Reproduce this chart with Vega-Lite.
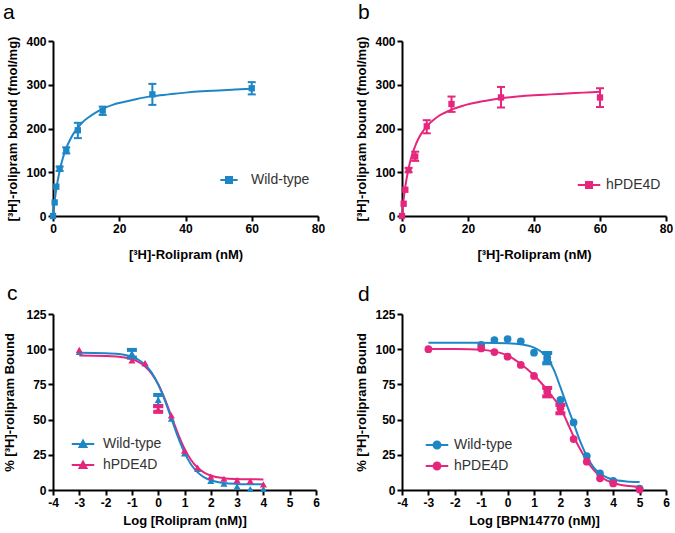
{
  "$schema": "https://vega.github.io/schema/vega-lite/v6.json",
  "background": "white",
  "padding": {"left": 2, "top": 2, "right": 5, "bottom": 5},
  "spacing": 22,
  "datasets": {
    "pts": [
      {"panel": "a", "series": "Wild-type", "x": 0, "y": 0},
      {"panel": "a", "series": "Wild-type", "x": 0.5, "y": 31},
      {"panel": "a", "series": "Wild-type", "x": 1, "y": 67},
      {"panel": "a", "series": "Wild-type", "x": 2, "y": 108},
      {"panel": "a", "series": "Wild-type", "x": 4, "y": 150},
      {"panel": "a", "series": "Wild-type", "x": 7.5, "y": 196},
      {"panel": "a", "series": "Wild-type", "x": 15, "y": 241},
      {"panel": "a", "series": "Wild-type", "x": 30, "y": 278},
      {"panel": "a", "series": "Wild-type", "x": 60, "y": 292},
      {"panel": "b", "series": "hPDE4D", "x": 0, "y": 0},
      {"panel": "b", "series": "hPDE4D", "x": 0.5, "y": 28},
      {"panel": "b", "series": "hPDE4D", "x": 1, "y": 60},
      {"panel": "b", "series": "hPDE4D", "x": 2, "y": 105},
      {"panel": "b", "series": "hPDE4D", "x": 4, "y": 136},
      {"panel": "b", "series": "hPDE4D", "x": 7.5, "y": 205},
      {"panel": "b", "series": "hPDE4D", "x": 15, "y": 256},
      {"panel": "b", "series": "hPDE4D", "x": 30, "y": 271},
      {"panel": "b", "series": "hPDE4D", "x": 60, "y": 271},
      {"panel": "c", "series": "Wild-type", "x": -3, "y": 98},
      {"panel": "c", "series": "Wild-type", "x": -1, "y": 97},
      {"panel": "c", "series": "Wild-type", "x": -0.5, "y": 90},
      {"panel": "c", "series": "Wild-type", "x": 0, "y": 64},
      {"panel": "c", "series": "Wild-type", "x": 0.5, "y": 50.7},
      {"panel": "c", "series": "Wild-type", "x": 1, "y": 26},
      {"panel": "c", "series": "Wild-type", "x": 1.5, "y": 15},
      {"panel": "c", "series": "Wild-type", "x": 2, "y": 6.5},
      {"panel": "c", "series": "Wild-type", "x": 2.5, "y": 4.5},
      {"panel": "c", "series": "Wild-type", "x": 3, "y": 2.5},
      {"panel": "c", "series": "Wild-type", "x": 3.5, "y": 0.7},
      {"panel": "c", "series": "Wild-type", "x": 4, "y": 0.7},
      {"panel": "c", "series": "hPDE4D", "x": -3, "y": 99.5},
      {"panel": "c", "series": "hPDE4D", "x": -1, "y": 92},
      {"panel": "c", "series": "hPDE4D", "x": -0.5, "y": 90},
      {"panel": "c", "series": "hPDE4D", "x": 0, "y": 57.3},
      {"panel": "c", "series": "hPDE4D", "x": 0.5, "y": 53},
      {"panel": "c", "series": "hPDE4D", "x": 1, "y": 28},
      {"panel": "c", "series": "hPDE4D", "x": 1.5, "y": 16},
      {"panel": "c", "series": "hPDE4D", "x": 2, "y": 9.5},
      {"panel": "c", "series": "hPDE4D", "x": 2.5, "y": 8},
      {"panel": "c", "series": "hPDE4D", "x": 3, "y": 7},
      {"panel": "c", "series": "hPDE4D", "x": 3.5, "y": 6.5},
      {"panel": "c", "series": "hPDE4D", "x": 4, "y": 4},
      {"panel": "d", "series": "Wild-type", "x": -1, "y": 103},
      {"panel": "d", "series": "Wild-type", "x": -0.5, "y": 106.5},
      {"panel": "d", "series": "Wild-type", "x": 0, "y": 107.2},
      {"panel": "d", "series": "Wild-type", "x": 0.5, "y": 105.6},
      {"panel": "d", "series": "Wild-type", "x": 1, "y": 97.5},
      {"panel": "d", "series": "Wild-type", "x": 1.5, "y": 94.3},
      {"panel": "d", "series": "Wild-type", "x": 1.5, "y": 92},
      {"panel": "d", "series": "Wild-type", "x": 2, "y": 64},
      {"panel": "d", "series": "Wild-type", "x": 2.5, "y": 48},
      {"panel": "d", "series": "Wild-type", "x": 3, "y": 24.1},
      {"panel": "d", "series": "Wild-type", "x": 3.5, "y": 11.8},
      {"panel": "d", "series": "Wild-type", "x": 4, "y": 6.4},
      {"panel": "d", "series": "Wild-type", "x": 5, "y": 1},
      {"panel": "d", "series": "hPDE4D", "x": -3, "y": 100},
      {"panel": "d", "series": "hPDE4D", "x": -1, "y": 100.5},
      {"panel": "d", "series": "hPDE4D", "x": -0.5, "y": 98},
      {"panel": "d", "series": "hPDE4D", "x": 0, "y": 94.7},
      {"panel": "d", "series": "hPDE4D", "x": 0.5, "y": 88.8},
      {"panel": "d", "series": "hPDE4D", "x": 1, "y": 81},
      {"panel": "d", "series": "hPDE4D", "x": 1.5, "y": 69.8},
      {"panel": "d", "series": "hPDE4D", "x": 2, "y": 58},
      {"panel": "d", "series": "hPDE4D", "x": 2.5, "y": 36.2},
      {"panel": "d", "series": "hPDE4D", "x": 3, "y": 20.1},
      {"panel": "d", "series": "hPDE4D", "x": 3.5, "y": 8.3},
      {"panel": "d", "series": "hPDE4D", "x": 4, "y": 4.7},
      {"panel": "d", "series": "hPDE4D", "x": 5, "y": 0.3}
    ],
    "errs": [
      {"panel": "a", "series": "Wild-type", "x": 2, "lo": 103, "hi": 113},
      {"panel": "a", "series": "Wild-type", "x": 4, "lo": 143, "hi": 157},
      {"panel": "a", "series": "Wild-type", "x": 7.5, "lo": 178, "hi": 213},
      {"panel": "a", "series": "Wild-type", "x": 15, "lo": 231, "hi": 250},
      {"panel": "a", "series": "Wild-type", "x": 30, "lo": 254, "hi": 302},
      {"panel": "a", "series": "Wild-type", "x": 60, "lo": 278, "hi": 306},
      {"panel": "b", "series": "hPDE4D", "x": 2, "lo": 100, "hi": 110},
      {"panel": "b", "series": "hPDE4D", "x": 4, "lo": 126, "hi": 147},
      {"panel": "b", "series": "hPDE4D", "x": 7.5, "lo": 189, "hi": 219},
      {"panel": "b", "series": "hPDE4D", "x": 15, "lo": 238, "hi": 273},
      {"panel": "b", "series": "hPDE4D", "x": 30, "lo": 248, "hi": 295},
      {"panel": "b", "series": "hPDE4D", "x": 60, "lo": 249, "hi": 292},
      {"panel": "c", "series": "Wild-type", "x": -1, "lo": 94, "hi": 99.5},
      {"panel": "c", "series": "Wild-type", "x": 0, "lo": 59.7, "hi": 67.5},
      {"panel": "c", "series": "hPDE4D", "x": 0, "lo": 55.5, "hi": 59.5},
      {"panel": "d", "series": "Wild-type", "x": 1.5, "lo": 90, "hi": 97.3},
      {"panel": "d", "series": "hPDE4D", "x": 1.5, "lo": 66.5, "hi": 72.5},
      {"panel": "d", "series": "hPDE4D", "x": 2, "lo": 54.5, "hi": 60.4}
    ],
    "curves": [
      {"panel": "a", "series": "Wild-type", "x": 0, "y": 0},
      {"panel": "a", "series": "Wild-type", "x": 0.5, "y": 34},
      {"panel": "a", "series": "Wild-type", "x": 1, "y": 62},
      {"panel": "a", "series": "Wild-type", "x": 2, "y": 103},
      {"panel": "a", "series": "Wild-type", "x": 3, "y": 133},
      {"panel": "a", "series": "Wild-type", "x": 4, "y": 155},
      {"panel": "a", "series": "Wild-type", "x": 5, "y": 172},
      {"panel": "a", "series": "Wild-type", "x": 6, "y": 186},
      {"panel": "a", "series": "Wild-type", "x": 7.5, "y": 202},
      {"panel": "a", "series": "Wild-type", "x": 9, "y": 215},
      {"panel": "a", "series": "Wild-type", "x": 11, "y": 227},
      {"panel": "a", "series": "Wild-type", "x": 13, "y": 237},
      {"panel": "a", "series": "Wild-type", "x": 15, "y": 245},
      {"panel": "a", "series": "Wild-type", "x": 18, "y": 254},
      {"panel": "a", "series": "Wild-type", "x": 21, "y": 260},
      {"panel": "a", "series": "Wild-type", "x": 25, "y": 267},
      {"panel": "a", "series": "Wild-type", "x": 30, "y": 274},
      {"panel": "a", "series": "Wild-type", "x": 35, "y": 278},
      {"panel": "a", "series": "Wild-type", "x": 40, "y": 282},
      {"panel": "a", "series": "Wild-type", "x": 45, "y": 285},
      {"panel": "a", "series": "Wild-type", "x": 50, "y": 287},
      {"panel": "a", "series": "Wild-type", "x": 55, "y": 289},
      {"panel": "a", "series": "Wild-type", "x": 60, "y": 291},
      {"panel": "b", "series": "hPDE4D", "x": 0, "y": 0},
      {"panel": "b", "series": "hPDE4D", "x": 0.5, "y": 38},
      {"panel": "b", "series": "hPDE4D", "x": 1, "y": 67},
      {"panel": "b", "series": "hPDE4D", "x": 2, "y": 109},
      {"panel": "b", "series": "hPDE4D", "x": 3, "y": 139},
      {"panel": "b", "series": "hPDE4D", "x": 4, "y": 160},
      {"panel": "b", "series": "hPDE4D", "x": 5, "y": 177},
      {"panel": "b", "series": "hPDE4D", "x": 6, "y": 190},
      {"panel": "b", "series": "hPDE4D", "x": 7.5, "y": 205},
      {"panel": "b", "series": "hPDE4D", "x": 9, "y": 216},
      {"panel": "b", "series": "hPDE4D", "x": 11, "y": 228},
      {"panel": "b", "series": "hPDE4D", "x": 13, "y": 236},
      {"panel": "b", "series": "hPDE4D", "x": 15, "y": 243},
      {"panel": "b", "series": "hPDE4D", "x": 18, "y": 251},
      {"panel": "b", "series": "hPDE4D", "x": 21, "y": 257},
      {"panel": "b", "series": "hPDE4D", "x": 25, "y": 263},
      {"panel": "b", "series": "hPDE4D", "x": 30, "y": 269},
      {"panel": "b", "series": "hPDE4D", "x": 35, "y": 273},
      {"panel": "b", "series": "hPDE4D", "x": 40, "y": 276},
      {"panel": "b", "series": "hPDE4D", "x": 45, "y": 278},
      {"panel": "b", "series": "hPDE4D", "x": 50, "y": 280},
      {"panel": "b", "series": "hPDE4D", "x": 55, "y": 282},
      {"panel": "b", "series": "hPDE4D", "x": 60, "y": 284},
      {"panel": "c", "series": "hPDE4D", "x": -3, "y": 95.5},
      {"panel": "c", "series": "hPDE4D", "x": -2, "y": 95.2},
      {"panel": "c", "series": "hPDE4D", "x": -1.5, "y": 94.7},
      {"panel": "c", "series": "hPDE4D", "x": -1, "y": 92.9},
      {"panel": "c", "series": "hPDE4D", "x": -0.75, "y": 91},
      {"panel": "c", "series": "hPDE4D", "x": -0.5, "y": 87.8},
      {"panel": "c", "series": "hPDE4D", "x": -0.25, "y": 82.7},
      {"panel": "c", "series": "hPDE4D", "x": 0, "y": 75.1},
      {"panel": "c", "series": "hPDE4D", "x": 0.25, "y": 64.8},
      {"panel": "c", "series": "hPDE4D", "x": 0.5, "y": 52.5},
      {"panel": "c", "series": "hPDE4D", "x": 0.75, "y": 40.1},
      {"panel": "c", "series": "hPDE4D", "x": 1, "y": 29.4},
      {"panel": "c", "series": "hPDE4D", "x": 1.25, "y": 21.3},
      {"panel": "c", "series": "hPDE4D", "x": 1.5, "y": 15.8},
      {"panel": "c", "series": "hPDE4D", "x": 1.75, "y": 12.4},
      {"panel": "c", "series": "hPDE4D", "x": 2, "y": 10.3},
      {"panel": "c", "series": "hPDE4D", "x": 2.5, "y": 8.4},
      {"panel": "c", "series": "hPDE4D", "x": 3, "y": 7.8},
      {"panel": "c", "series": "hPDE4D", "x": 3.5, "y": 7.6},
      {"panel": "c", "series": "hPDE4D", "x": 4, "y": 7.5},
      {"panel": "c", "series": "Wild-type", "x": -3, "y": 97.5},
      {"panel": "c", "series": "Wild-type", "x": -2, "y": 97.2},
      {"panel": "c", "series": "Wild-type", "x": -1.5, "y": 96.6},
      {"panel": "c", "series": "Wild-type", "x": -1, "y": 94.6},
      {"panel": "c", "series": "Wild-type", "x": -0.75, "y": 92.5},
      {"panel": "c", "series": "Wild-type", "x": -0.5, "y": 89},
      {"panel": "c", "series": "Wild-type", "x": -0.25, "y": 83.4},
      {"panel": "c", "series": "Wild-type", "x": 0, "y": 75},
      {"panel": "c", "series": "Wild-type", "x": 0.25, "y": 63.9},
      {"panel": "c", "series": "Wild-type", "x": 0.5, "y": 50.8},
      {"panel": "c", "series": "Wild-type", "x": 0.75, "y": 37.7},
      {"panel": "c", "series": "Wild-type", "x": 1, "y": 26.5},
      {"panel": "c", "series": "Wild-type", "x": 1.25, "y": 18.1},
      {"panel": "c", "series": "Wild-type", "x": 1.5, "y": 12.5},
      {"panel": "c", "series": "Wild-type", "x": 1.75, "y": 9},
      {"panel": "c", "series": "Wild-type", "x": 2, "y": 6.9},
      {"panel": "c", "series": "Wild-type", "x": 2.5, "y": 4.9},
      {"panel": "c", "series": "Wild-type", "x": 3, "y": 4.3},
      {"panel": "c", "series": "Wild-type", "x": 3.5, "y": 4.1},
      {"panel": "c", "series": "Wild-type", "x": 4, "y": 4},
      {"panel": "d", "series": "hPDE4D", "x": -3, "y": 100.2},
      {"panel": "d", "series": "hPDE4D", "x": -2, "y": 100.1},
      {"panel": "d", "series": "hPDE4D", "x": -1, "y": 99.6},
      {"panel": "d", "series": "hPDE4D", "x": -0.5, "y": 98.3},
      {"panel": "d", "series": "hPDE4D", "x": 0, "y": 95.6},
      {"panel": "d", "series": "hPDE4D", "x": 0.5, "y": 89.5},
      {"panel": "d", "series": "hPDE4D", "x": 1, "y": 81.5},
      {"panel": "d", "series": "hPDE4D", "x": 1.25, "y": 76.5},
      {"panel": "d", "series": "hPDE4D", "x": 1.5, "y": 71},
      {"panel": "d", "series": "hPDE4D", "x": 1.75, "y": 65},
      {"panel": "d", "series": "hPDE4D", "x": 2, "y": 58.5},
      {"panel": "d", "series": "hPDE4D", "x": 2.25, "y": 48.5},
      {"panel": "d", "series": "hPDE4D", "x": 2.5, "y": 38},
      {"panel": "d", "series": "hPDE4D", "x": 2.75, "y": 29},
      {"panel": "d", "series": "hPDE4D", "x": 3, "y": 21},
      {"panel": "d", "series": "hPDE4D", "x": 3.25, "y": 14.5},
      {"panel": "d", "series": "hPDE4D", "x": 3.5, "y": 10},
      {"panel": "d", "series": "hPDE4D", "x": 3.75, "y": 6.8},
      {"panel": "d", "series": "hPDE4D", "x": 4, "y": 5},
      {"panel": "d", "series": "hPDE4D", "x": 4.5, "y": 3},
      {"panel": "d", "series": "hPDE4D", "x": 5, "y": 2.2},
      {"panel": "d", "series": "Wild-type", "x": -3, "y": 104.5},
      {"panel": "d", "series": "Wild-type", "x": -2, "y": 104.5},
      {"panel": "d", "series": "Wild-type", "x": -1, "y": 104.5},
      {"panel": "d", "series": "Wild-type", "x": 0, "y": 104.2},
      {"panel": "d", "series": "Wild-type", "x": 0.5, "y": 103.5},
      {"panel": "d", "series": "Wild-type", "x": 1, "y": 101.1},
      {"panel": "d", "series": "Wild-type", "x": 1.25, "y": 98.5},
      {"panel": "d", "series": "Wild-type", "x": 1.5, "y": 94},
      {"panel": "d", "series": "Wild-type", "x": 1.75, "y": 85.5},
      {"panel": "d", "series": "Wild-type", "x": 2, "y": 73},
      {"panel": "d", "series": "Wild-type", "x": 2.25, "y": 60},
      {"panel": "d", "series": "Wild-type", "x": 2.5, "y": 47.5},
      {"panel": "d", "series": "Wild-type", "x": 2.75, "y": 34.5},
      {"panel": "d", "series": "Wild-type", "x": 3, "y": 24},
      {"panel": "d", "series": "Wild-type", "x": 3.25, "y": 16.3},
      {"panel": "d", "series": "Wild-type", "x": 3.5, "y": 11.7},
      {"panel": "d", "series": "Wild-type", "x": 3.75, "y": 9},
      {"panel": "d", "series": "Wild-type", "x": 4, "y": 7.4},
      {"panel": "d", "series": "Wild-type", "x": 4.5, "y": 6.1},
      {"panel": "d", "series": "Wild-type", "x": 5, "y": 5.7}
    ]
  },
  "resolve": {
    "scale": {"color": "independent", "fill": "independent", "stroke": "independent"},
    "legend": {"color": "independent", "fill": "independent", "stroke": "independent"}
  },
  "vconcat": [
    {
      "spacing": 30,
      "resolve": {
        "scale": {"color": "independent", "fill": "independent", "stroke": "independent", "x": "independent", "y": "independent"},
        "legend": {"color": "independent", "fill": "independent", "stroke": "independent"}
      },
      "hconcat": [
        {
          "width": 265,
          "height": 175,
          "title": {"text": "a", "dx": -4, "offset": 12},
          "encoding": {
            "x": {"field": "x", "type": "quantitative", "scale": {"domain": [0, 80], "nice": false, "zero": false}, "axis": {"values": [0, 20, 40, 60, 80], "title": "[³H]-Rolipram (nM)", "titlePadding": 14}},
            "y": {"field": "y", "type": "quantitative", "scale": {"domain": [0, 400], "nice": false}, "axis": {"values": [0, 100, 200, 300, 400], "title": "[³H]-rolipram bound (fmol/mg)"}}
          },
          "layer": [
            {
              "data": {"name": "curves"},
              "transform": [{"filter": "datum.panel === 'a'"}],
              "mark": {"type": "line", "interpolate": "monotone", "strokeWidth": 2, "color": "#1f86c6"}
            },
            {
              "data": {"name": "errs"},
              "transform": [{"filter": "datum.panel === 'a'"}],
              "mark": {"type": "rule", "strokeWidth": 2, "color": "#1f86c6"},
              "encoding": {"y": {"field": "lo", "type": "quantitative"}, "y2": {"field": "hi"}}
            },
            {
              "data": {"name": "errs"},
              "transform": [{"filter": "datum.panel === 'a'"}],
              "mark": {"type": "tick", "orient": "horizontal", "size": 8, "thickness": 2, "opacity": 1, "color": "#1f86c6"},
              "encoding": {"y": {"field": "lo", "type": "quantitative"}}
            },
            {
              "data": {"name": "errs"},
              "transform": [{"filter": "datum.panel === 'a'"}],
              "mark": {"type": "tick", "orient": "horizontal", "size": 8, "thickness": 2, "opacity": 1, "color": "#1f86c6"},
              "encoding": {"y": {"field": "hi", "type": "quantitative"}}
            },
            {
              "data": {"name": "pts"},
              "transform": [{"filter": "datum.panel === 'a'"}],
              "mark": {"type": "point", "shape": "square", "size": 40, "filled": true, "opacity": 1},
              "encoding": {
                "color": {"field": "series", "type": "nominal", "scale": {"domain": ["Wild-type"], "range": ["#1f86c6"]}, "legend": {"orient": "none", "legendX": 166, "legendY": 129, "labelOffset": 12, "title": null, "symbolType": "M-1,0H1M-0.35,-0.35H0.35V0.35H-0.35Z", "symbolSize": 300, "symbolStrokeWidth": 2, "symbolStrokeColor": "#1f86c6"}}
              }
            }
          ]
        },
        {
          "width": 264,
          "height": 175,
          "title": {"text": "b", "dx": 2, "offset": 12},
          "encoding": {
            "x": {"field": "x", "type": "quantitative", "scale": {"domain": [0, 80], "nice": false, "zero": false}, "axis": {"values": [0, 20, 40, 60, 80], "title": "[³H]-Rolipram (nM)", "titlePadding": 14}},
            "y": {"field": "y", "type": "quantitative", "scale": {"domain": [0, 400], "nice": false}, "axis": {"values": [0, 100, 200, 300, 400], "title": "[³H]-rolipram bound (fmol/mg)"}}
          },
          "layer": [
            {
              "data": {"name": "curves"},
              "transform": [{"filter": "datum.panel === 'b'"}],
              "mark": {"type": "line", "interpolate": "monotone", "strokeWidth": 2, "color": "#e5267c"}
            },
            {
              "data": {"name": "errs"},
              "transform": [{"filter": "datum.panel === 'b'"}],
              "mark": {"type": "rule", "strokeWidth": 2, "color": "#e5267c"},
              "encoding": {"y": {"field": "lo", "type": "quantitative"}, "y2": {"field": "hi"}}
            },
            {
              "data": {"name": "errs"},
              "transform": [{"filter": "datum.panel === 'b'"}],
              "mark": {"type": "tick", "orient": "horizontal", "size": 8, "thickness": 2, "opacity": 1, "color": "#e5267c"},
              "encoding": {"y": {"field": "lo", "type": "quantitative"}}
            },
            {
              "data": {"name": "errs"},
              "transform": [{"filter": "datum.panel === 'b'"}],
              "mark": {"type": "tick", "orient": "horizontal", "size": 8, "thickness": 2, "opacity": 1, "color": "#e5267c"},
              "encoding": {"y": {"field": "hi", "type": "quantitative"}}
            },
            {
              "data": {"name": "pts"},
              "transform": [{"filter": "datum.panel === 'b'"}],
              "mark": {"type": "point", "shape": "square", "size": 40, "filled": true, "opacity": 1},
              "encoding": {
                "color": {"field": "series", "type": "nominal", "scale": {"domain": ["hPDE4D"], "range": ["#e5267c"]}, "legend": {"orient": "none", "legendX": 177, "legendY": 134, "labelOffset": 7, "title": null, "symbolType": "M-1.3,0H1.3M-0.35,-0.35H0.35V0.35H-0.35Z", "symbolSize": 300, "symbolStrokeWidth": 2, "symbolStrokeColor": "#e5267c"}}
              }
            }
          ]
        }
      ]
    },
    {
      "spacing": 35,
      "resolve": {
        "scale": {"color": "independent", "fill": "independent", "stroke": "independent", "x": "independent", "y": "independent"},
        "legend": {"color": "independent", "fill": "independent", "stroke": "independent"}
      },
      "hconcat": [
        {
          "width": 263,
          "height": 176,
          "title": {"text": "c", "dx": 4, "offset": 4},
          "encoding": {
            "x": {"field": "x", "type": "quantitative", "scale": {"domain": [-4, 6], "nice": false, "zero": false}, "axis": {"values": [-4, -3, -2, -1, 0, 1, 2, 3, 4, 5, 6], "title": "Log [Rolipram (nM)]", "labelExpr": "datum.value < 0 ? '-' + abs(datum.value) : '' + datum.value"}},
            "y": {"field": "y", "type": "quantitative", "scale": {"domain": [0, 125], "nice": false}, "axis": {"values": [0, 25, 50, 75, 100, 125], "title": "% [³H]-rolipram Bound", "minExtent": 31}}
          },
          "layer": [
            {
              "data": {"name": "curves"},
              "transform": [{"filter": "datum.panel === 'c'"}],
              "mark": {"type": "line", "interpolate": "monotone", "strokeWidth": 2},
              "encoding": {"stroke": {"field": "series", "type": "nominal", "scale": {"domain": ["hPDE4D", "Wild-type"], "range": ["#e5267c", "#1f86c6"]}, "legend": null}}
            },
            {
              "data": {"name": "errs"},
              "transform": [{"filter": "datum.panel === 'c'"}],
              "mark": {"type": "rule", "strokeWidth": 2},
              "encoding": {"y": {"field": "lo", "type": "quantitative"}, "y2": {"field": "hi"}, "stroke": {"field": "series", "type": "nominal", "legend": null}}
            },
            {
              "data": {"name": "errs"},
              "transform": [{"filter": "datum.panel === 'c'"}],
              "mark": {"type": "tick", "orient": "horizontal", "size": 8, "thickness": 2, "opacity": 1, "filled": false, "strokeWidth": 2},
              "encoding": {"y": {"field": "lo", "type": "quantitative"}, "stroke": {"field": "series", "type": "nominal", "legend": null}}
            },
            {
              "data": {"name": "errs"},
              "transform": [{"filter": "datum.panel === 'c'"}],
              "mark": {"type": "tick", "orient": "horizontal", "size": 8, "thickness": 2, "opacity": 1, "filled": false, "strokeWidth": 2},
              "encoding": {"y": {"field": "hi", "type": "quantitative"}, "stroke": {"field": "series", "type": "nominal", "legend": null}}
            },
            {
              "data": {"name": "pts"},
              "transform": [{"filter": "datum.panel === 'c'"}],
              "mark": {"type": "point", "shape": "triangle-up", "size": 50, "filled": true, "opacity": 1},
              "encoding": {
                "color": {"field": "series", "type": "nominal", "scale": {"domain": ["Wild-type", "hPDE4D"], "range": ["#1f86c6", "#e5267c"]}, "legend": {"orient": "none", "legendX": 20, "legendY": 120, "labelOffset": 10, "title": null, "symbolType": "M-1.3,0H1.3M-0.4,0.35L0,-0.4L0.4,0.35Z", "symbolSize": 300, "symbolStrokeWidth": 2, "encoding": {"symbols": {"stroke": {"condition": {"test": "datum.value === 'Wild-type'", "value": "#1f86c6"}, "value": "#e5267c"}}}}}
              }
            }
          ]
        },
        {
          "width": 264,
          "height": 176,
          "title": {"text": "d", "dx": 2, "offset": 3},
          "encoding": {
            "x": {"field": "x", "type": "quantitative", "scale": {"domain": [-4, 6], "nice": false, "zero": false}, "axis": {"values": [-4, -3, -2, -1, 0, 1, 2, 3, 4, 5, 6], "title": "Log [BPN14770 (nM)]", "labelExpr": "datum.value < 0 ? '-' + abs(datum.value) : '' + datum.value"}},
            "y": {"field": "y", "type": "quantitative", "scale": {"domain": [0, 125], "nice": false}, "axis": {"values": [0, 25, 50, 75, 100, 125], "title": "% [³H]-rolipram Bound"}}
          },
          "layer": [
            {
              "data": {"name": "curves"},
              "transform": [{"filter": "datum.panel === 'd'"}],
              "mark": {"type": "line", "interpolate": "monotone", "strokeWidth": 2},
              "encoding": {"stroke": {"field": "series", "type": "nominal", "scale": {"domain": ["hPDE4D", "Wild-type"], "range": ["#e5267c", "#1f86c6"]}, "legend": null}}
            },
            {
              "data": {"name": "errs"},
              "transform": [{"filter": "datum.panel === 'd'"}],
              "mark": {"type": "rule", "strokeWidth": 2},
              "encoding": {"y": {"field": "lo", "type": "quantitative"}, "y2": {"field": "hi"}, "stroke": {"field": "series", "type": "nominal", "legend": null}}
            },
            {
              "data": {"name": "errs"},
              "transform": [{"filter": "datum.panel === 'd'"}],
              "mark": {"type": "tick", "orient": "horizontal", "size": 8, "thickness": 2, "opacity": 1, "filled": false, "strokeWidth": 2},
              "encoding": {"y": {"field": "lo", "type": "quantitative"}, "stroke": {"field": "series", "type": "nominal", "legend": null}}
            },
            {
              "data": {"name": "errs"},
              "transform": [{"filter": "datum.panel === 'd'"}],
              "mark": {"type": "tick", "orient": "horizontal", "size": 8, "thickness": 2, "opacity": 1, "filled": false, "strokeWidth": 2},
              "encoding": {"y": {"field": "hi", "type": "quantitative"}, "stroke": {"field": "series", "type": "nominal", "legend": null}}
            },
            {
              "data": {"name": "pts"},
              "transform": [{"filter": "datum.panel === 'd'"}],
              "mark": {"type": "point", "shape": "circle", "size": 60, "filled": true, "opacity": 1},
              "encoding": {
                "color": {"field": "series", "type": "nominal", "scale": {"domain": ["Wild-type", "hPDE4D"], "range": ["#1f86c6", "#e5267c"]}, "legend": {"orient": "none", "legendX": 25, "legendY": 121, "labelOffset": 7, "title": null, "symbolType": "M-1.3,0H1.3M-0.4,0A0.4,0.4,0,1,0,0.4,0A0.4,0.4,0,1,0,-0.4,0Z", "symbolSize": 300, "symbolStrokeWidth": 2, "encoding": {"symbols": {"stroke": {"condition": {"test": "datum.value === 'Wild-type'", "value": "#1f86c6"}, "value": "#e5267c"}}}}}
              }
            }
          ]
        }
      ]
    }
  ],
  "config": {
    "view": {"stroke": null},
    "font": "Liberation Sans",
    "axis": {
      "grid": false,
      "domainColor": "#000",
      "domainWidth": 2,
      "tickColor": "#000",
      "tickWidth": 2,
      "tickSize": 5,
      "labelFont": "Liberation Sans",
      "labelFontWeight": "bold",
      "labelFontSize": 12,
      "labelColor": "#000",
      "labelFlush": false,
      "labelPadding": 2,
      "titleFont": "Liberation Sans",
      "titleFontWeight": "bold",
      "titleFontSize": 13,
      "titleColor": "#000",
      "titlePadding": 6
    },
    "legend": {"labelFont": "Liberation Sans", "labelFontSize": 14, "labelColor": "#333", "labelOffset": 9, "rowPadding": 3},
    "title": {"anchor": "start", "fontSize": 21, "fontWeight": "normal", "font": "Liberation Sans", "color": "#000"}
  }
}
